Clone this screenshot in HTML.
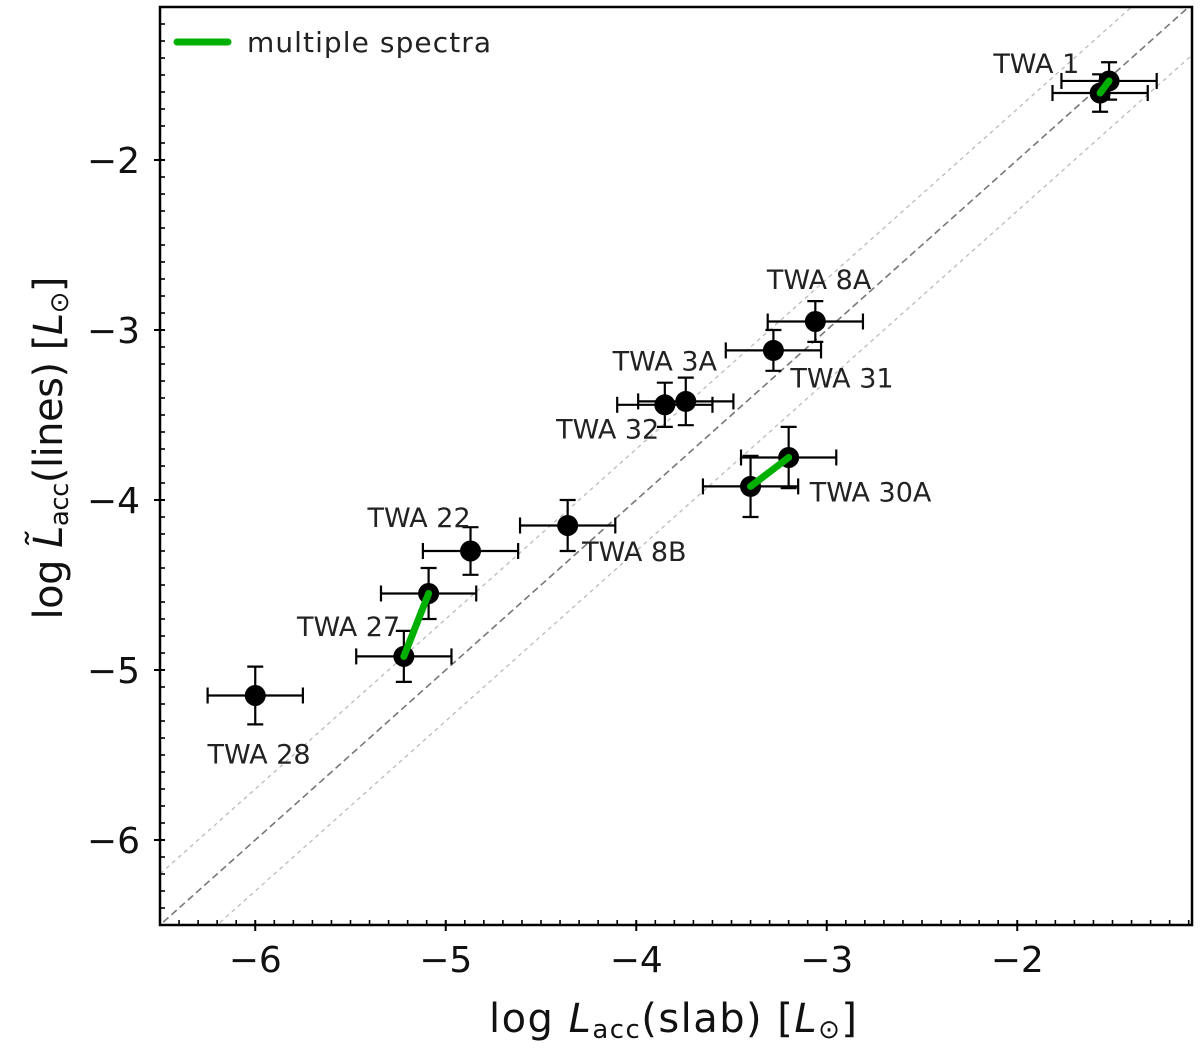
<!DOCTYPE html>
<html><head><meta charset="utf-8"><style>
html,body{margin:0;padding:0;background:#fff;}
svg{display:block;font-family:"DejaVu Sans","Liberation Sans",sans-serif;}
</style></head><body>
<svg id="chart" width="1200" height="1052" viewBox="0 0 1200 1052" xmlns="http://www.w3.org/2000/svg">
<defs><clipPath id="clip"><rect x="160" y="7" width="1032" height="918"/></clipPath></defs>
<g id="guides" clip-path="url(#clip)"></g>
<g id="marks"></g>
<g id="axes"></g>
<rect x="160" y="7" width="1032" height="918" fill="none" stroke="#000" stroke-width="2.5"/>
<g>
<line x1="177" y1="42" x2="228" y2="42" stroke="#00b000" stroke-width="7" stroke-linecap="round"/>
<text x="247" y="52" font-size="28" fill="#222" textLength="244">multiple spectra</text>
</g>
<text x="673" y="1032" font-size="40" text-anchor="middle" fill="#111" textLength="368">log <tspan font-style="italic">L</tspan><tspan font-size="26" dy="6">acc</tspan><tspan dy="-6">(slab) [</tspan><tspan font-style="italic">L</tspan><tspan font-size="26" dy="6">⊙</tspan><tspan dy="-6">]</tspan></text>
<text transform="translate(62,448) rotate(-90)" font-size="40" text-anchor="middle" fill="#111" textLength="343">log <tspan font-style="italic">L̃</tspan><tspan font-size="26" dy="6">acc</tspan><tspan dy="-6">(lines) [</tspan><tspan font-style="italic">L</tspan><tspan font-size="26" dy="6">⊙</tspan><tspan dy="-6">]</tspan></text>
</svg>
<script>
const names=["TWA 28","TWA 27a","TWA 27b","TWA 22","TWA 8B","TWA 8A","TWA 31","TWA 3A","TWA 32","TWA 30Aa","TWA 30Ab","TWA 1a","TWA 1b"];
const xVals=[-6.00,-5.22,-5.09,-4.87,-4.36,-3.06,-3.28,-3.74,-3.85,-3.40,-3.20,-1.565,-1.518];
const yVals=[-5.15,-4.92,-4.55,-4.30,-4.15,-2.95,-3.12,-3.42,-3.44,-3.92,-3.75,-1.606,-1.535];
const xErr=[0.25,0.25,0.25,0.25,0.25,0.25,0.25,0.25,0.25,0.25,0.25,0.25,0.25];
const yErr=[0.17,0.15,0.15,0.14,0.15,0.12,0.12,0.14,0.13,0.18,0.18,0.11,0.11];
const pairs=[[1,2],[9,10],[11,12]];
const labelText=["TWA 28","TWA 27","TWA 22","TWA 8B","TWA 8A","TWA 31","TWA 3A","TWA 32","TWA 30A","TWA 1"];
const labelX=[-5.98,-5.51,-5.14,-4.01,-3.04,-2.92,-3.85,-4.15,-2.77,-1.90];
const labelY=[-5.49,-4.74,-4.10,-4.30,-2.70,-3.28,-3.18,-3.58,-3.95,-1.43];
const xTicks=[-6,-5,-4,-3,-2];
const yTicks=[-6,-5,-4,-3,-2];
const offsets=[0,0.3,-0.3];
const X0=160,XU=190.5,XMIN=-6.5,XMAX=-1.08,YMIN=-6.5,YMAX=-1.1,YB=925,YU=170;
const sx=v=>X0+(v-XMIN)*XU, sy=v=>YB-(v-YMIN)*YU;
const NS="http://www.w3.org/2000/svg";
function mk(t,a,p){const e=document.createElementNS(NS,t);for(const k in a)e.setAttribute(k,a[k]);p.appendChild(e);return e;}
const G=document.getElementById('guides'),M=document.getElementById('marks'),A=document.getElementById('axes');
offsets.forEach((o,i)=>{const l=mk('line',{x1:sx(-7),y1:sy(-7+o),x2:sx(-1),y2:sy(-1+o),stroke:i?'#bbb':'#777','stroke-width':i?1.3:1.6,'stroke-dasharray':i?'4 4':'7 4'},G);

});
for(let i=0;i<xVals.length;i++){
 const cx=sx(xVals[i]),cy=sy(yVals[i]),hx=xErr[i]*XU,hy=yErr[i]*YU;
 const g=mk('g',{stroke:'#000','stroke-width':2.2},M);
 
 
 mk('line',{x1:cx-hx,y1:cy,x2:cx+hx,y2:cy},g);mk('line',{x1:cx,y1:cy-hy,x2:cx,y2:cy+hy},g);
 mk('line',{x1:cx-hx,y1:cy-8,x2:cx-hx,y2:cy+8},g);mk('line',{x1:cx+hx,y1:cy-8,x2:cx+hx,y2:cy+8},g);
 mk('line',{x1:cx-8,y1:cy-hy,x2:cx+8,y2:cy-hy},g);mk('line',{x1:cx-8,y1:cy+hy,x2:cx+8,y2:cy+hy},g);
 mk('circle',{cx:cx,cy:cy,r:10.5,fill:'#000',stroke:'none'},g);
}
pairs.forEach(p=>{const l=mk('line',{x1:sx(xVals[p[0]]),y1:sy(yVals[p[0]]),x2:sx(xVals[p[1]]),y2:sy(yVals[p[1]]),stroke:'#00b000','stroke-width':7,'stroke-linecap':'round'},M);

});
labelText.forEach((t,i)=>{const e=mk('text',{x:sx(labelX[i]),y:sy(labelY[i])+10,'font-size':27,'text-anchor':'middle',fill:'#222'},M);e.textContent=t;

});
for(let k=-65;k<=-11;k++){const v=k/10,px=sx(v);if(px<X0+2||px>1190)continue;const maj=k%10===0;
 const t=mk('line',{x1:px,y1:YB-5,x2:px,y2:maj?YB+6:YB,stroke:'#000','stroke-width':maj?2:1.6},A);
 
 }
for(let k=-65;k<=-11;k++){const v=k/10,py=sy(v);if(py>YB-2||py<9)continue;const maj=k%10===0;
 const t=mk('line',{x1:maj?X0-6:X0,y1:py,x2:X0+5,y2:py,stroke:'#000','stroke-width':maj?2:1.6},A);
 
 }
xTicks.forEach(v=>{const e=mk('text',{x:sx(v),y:972,'font-size':36,'text-anchor':'middle',fill:'#111'},A);e.textContent='−'+Math.abs(v);

});
yTicks.forEach(v=>{const e=mk('text',{x:140,y:sy(v)+13,'font-size':36,'text-anchor':'end',fill:'#111'},A);e.textContent='−'+Math.abs(v);

});
</script>
</body></html>
